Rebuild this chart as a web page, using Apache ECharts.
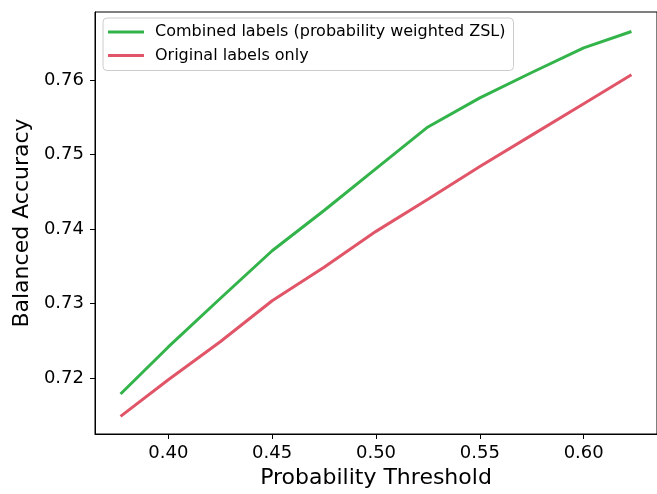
<!DOCTYPE html>
<html>
<head>
<meta charset="utf-8">
<script src="https://cdn.jsdelivr.net/npm/echarts@6/dist/echarts.min.js"></script>
<style>html,body{margin:0;padding:0;background:#fff}#c{width:657px;height:494px}</style>
</head>
<body>
<div id="c"></div>
<script>
const thresholds = [0.377, 0.400, 0.425, 0.450, 0.475, 0.500, 0.525, 0.550, 0.575, 0.600, 0.623];
const combined = [0.7179, 0.7242, 0.7307, 0.7371, 0.7425, 0.7481, 0.7537, 0.7576, 0.7610, 0.7643, 0.7665];
const original = [0.7149, 0.7198, 0.7249, 0.7304, 0.7349, 0.7397, 0.7440, 0.7484, 0.7526, 0.7568, 0.7607];
const xTicks = [0.40, 0.45, 0.50, 0.55, 0.60];
const yTicks = [0.72, 0.73, 0.74, 0.75, 0.76];
const seriesNames = ['Combined labels (probability weighted ZSL)', 'Original labels only'];
const FONT = 'DejaVu Sans';

const chart = echarts.init(document.getElementById('c'), null, {renderer: 'canvas'});
const pair = arr => thresholds.map((x, i) => [x, arr[i]]);
chart.setOption({
  animation: false,
  grid: {left: 95, top: 12, bottom: 58, right: -10, show: true, borderColor: '#000', borderWidth: 1, backgroundColor: 'transparent'},
  legend: {
    left: 103, top: 18, orient: 'vertical',
    data: seriesNames.map(n => ({name: n, icon: 'rect'})),
    itemWidth: 36, itemHeight: 3, itemGap: 7.5,
    padding: [6, 8, 7, 5],
    borderColor: '#cccccc', borderWidth: 1, borderRadius: 4,
    backgroundColor: 'rgba(255,255,255,0.8)',
    textStyle: {fontFamily: FONT, fontSize: 16, color: '#000', lineHeight: 16, padding: [0, 0, 0, 6]},
    selectedMode: false
  },
  xAxis: {
    type: 'value', min: 0.3647, max: 0.6353,
    name: 'Probability Threshold', nameLocation: 'middle', nameGap: 33,
    nameTextStyle: {fontFamily: FONT, fontSize: 22, color: '#000'},
    axisLine: {show: true, lineStyle: {color: '#000', width: 1}},
    axisTick: {show: true, length: 5, lineStyle: {color: '#000', width: 1}, customValues: xTicks},
    axisLabel: {fontFamily: FONT, fontSize: 18, color: '#000', margin: 10, customValues: xTicks, formatter: v => v.toFixed(2)},
    splitLine: {show: false}
  },
  yAxis: {
    type: 'value', min: 0.71253, max: 0.76911,
    name: 'Balanced Accuracy', nameLocation: 'middle', nameGap: 62,
    nameTextStyle: {fontFamily: FONT, fontSize: 22, color: '#000'},
    axisLine: {show: true, lineStyle: {color: '#000', width: 1}},
    axisTick: {show: true, length: 5, lineStyle: {color: '#000', width: 1}, customValues: yTicks},
    axisLabel: {fontFamily: FONT, fontSize: 18, color: '#000', margin: 11, customValues: yTicks, formatter: v => v.toFixed(2)},
    splitLine: {show: false}
  },
  series: [
    {name: seriesNames[0], type: 'line', data: pair(combined), showSymbol: false, color: '#33b44a', lineStyle: {width: 3, color: '#33b44a'}},
    {name: seriesNames[1], type: 'line', data: pair(original), showSymbol: false, color: '#e05568', lineStyle: {width: 3, color: '#e05568'}}
  ]
});
</script>
</body>
</html>
